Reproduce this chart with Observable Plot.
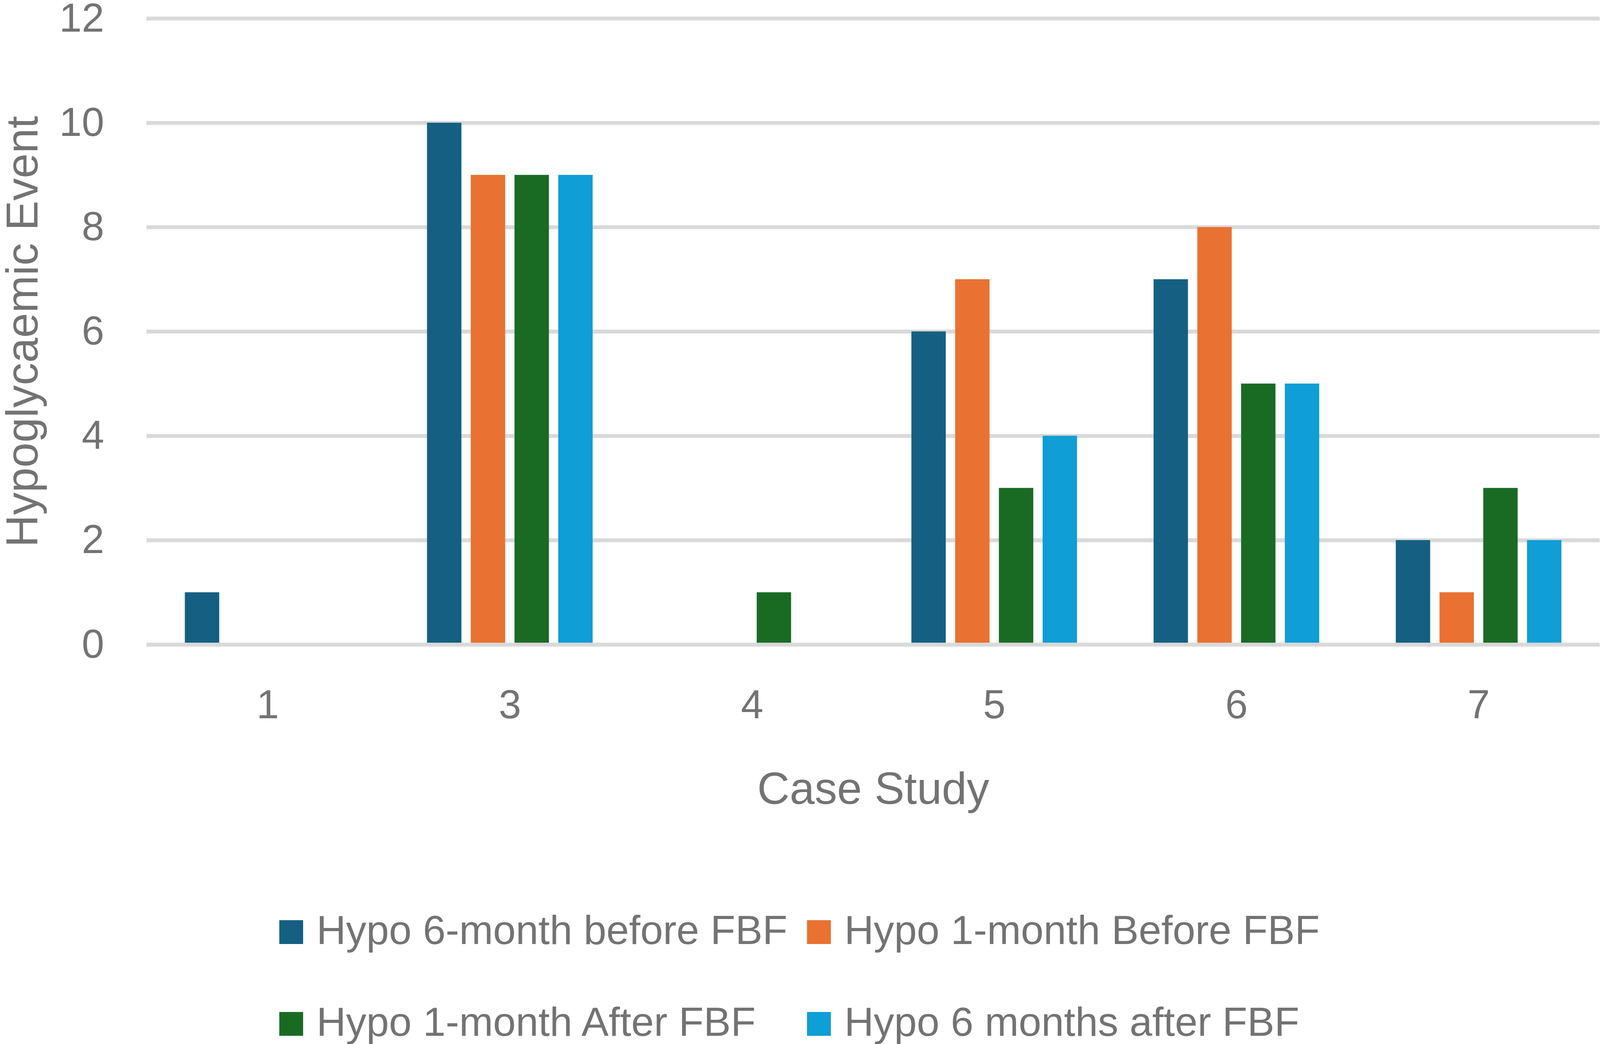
<!DOCTYPE html>
<html>
<head>
<meta charset="utf-8">
<script src="https://cdn.jsdelivr.net/npm/d3@7"></script>
<script src="https://cdn.jsdelivr.net/npm/@observablehq/plot@0.6"></script>
<style>
  html, body { margin: 0; padding: 0; background: #ffffff; overflow: hidden; }
  body { position: relative; width: 100vw; height: 100vh; }
  #chart svg { display: block; }
  #legend { position: absolute; left: 0; top: 0; width: 100%; height: 100%; pointer-events: none;
    font-family: "Liberation Sans", Arial, sans-serif; color: #737373; }
  .lg-text { position: absolute; white-space: nowrap; line-height: 1; }
  .lg-sw { position: absolute; }
</style>
</head>
<body>
<div id="chart"></div>
<div id="legend"></div>
<script>
const cases = ["1", "3", "4", "5", "6", "7"];
const seriesNames = [
  "Hypo 6-month before FBF",
  "Hypo 1-month Before FBF",
  "Hypo 1-month After FBF",
  "Hypo 6 months after FBF"
];
const hypo6Before = [1, 10, 0, 6, 7, 2];
const hypo1Before = [0, 9, 0, 7, 8, 1];
const hypo1After  = [0, 9, 1, 3, 5, 3];
const hypo6After  = [0, 9, 0, 4, 5, 2];
const seriesColors = ["#156082", "#E97132", "#196B24", "#0F9ED5"];
const yTicks = [0, 2, 4, 6, 8, 10, 12];

const seriesValues = [hypo6Before, hypo1Before, hypo1After, hypo6After];
const data = [];
cases.forEach((c, i) => {
  seriesNames.forEach((s, j) => {
    data.push({caseStudy: c, series: s, value: seriesValues[j][i]});
  });
});

// Fit the design (4635 x 2673) to the actual viewport.
const W = document.documentElement.clientWidth || window.innerWidth || 4635;
const H = document.documentElement.clientHeight || window.innerHeight || 2673;
const sx = W / 4635, sy = H / 2673;

const tickFont = 117 * sx, titleFont = 130 * sx, legendFont = 118 * sx;

const chart = Plot.plot({
  width: W,
  height: 2120 * sy,
  marginLeft: 423 * sx,
  marginRight: 0,
  marginTop: 47 * sy,
  marginBottom: 470 * sy,
  style: {
    fontFamily: "'Liberation Sans', Arial, sans-serif",
    fontSize: tickFont + "px",
    color: "#737373",
    background: "#ffffff"
  },
  fx: {
    domain: cases,
    padding: 0,
    axis: "bottom",
    label: "Case Study",
    labelAnchor: "center",
    labelArrow: false,
    tickSize: 0,
    tickPadding: 115 * sy,
    labelOffset: 407 * sy
  },
  x: {
    domain: seriesNames,
    paddingInner: 0.2126,
    paddingOuter: 0.87,
    axis: null
  },
  y: {
    domain: [0, 12],
    ticks: yTicks,
    tickSize: 0,
    tickPadding: 123 * sx,
    label: "Hypoglycaemic Event",
    labelAnchor: "center",
    labelArrow: false,
    labelOffset: 409 * sx
  },
  color: { domain: seriesNames, range: seriesColors },
  marks: [
    Plot.ruleY(yTicks.filter(d => d > 0), {stroke: "#d9d9d9", strokeWidth: 10 * sy, strokeOpacity: 1}),
    Plot.barY(data, {fx: "caseStudy", x: "series", y: "value", fill: "series"}),
    Plot.ruleY([0], {stroke: "#d9d9d9", strokeWidth: 10 * sy, strokeOpacity: 1})
  ]
});
document.getElementById("chart").appendChild(chart);

// Axis titles are a size larger than the tick labels.
const st = document.createElement("style");
st.textContent = `#chart [aria-label="fx-axis label"] text, #chart [aria-label="y-axis label"] text { font-size: ${titleFont}px; }`;
document.head.appendChild(st);

// Legend: two rows of two entries below the chart.
const legend = document.getElementById("legend");
const colX = [809, 2338];
const rowBaseline = [2417, 2652];
seriesNames.forEach((s, j) => {
  const cx = colX[j % 2] * sx;
  const base = rowBaseline[Math.floor(j / 2)] * sy;
  const sw = document.createElement("div");
  sw.className = "lg-sw";
  sw.style.left = cx + "px";
  sw.style.top = (base - 69 * sx) + "px";
  sw.style.width = (69 * sx) + "px";
  sw.style.height = (69 * sx) + "px";
  sw.style.background = seriesColors[j];
  const tx = document.createElement("div");
  tx.className = "lg-text";
  tx.style.fontSize = legendFont + "px";
  tx.style.left = (cx + 108 * sx) + "px";
  tx.style.top = (base - 0.8465 * legendFont) + "px";
  tx.textContent = s;
  legend.appendChild(sw);
  legend.appendChild(tx);
});
</script>
</body>
</html>
